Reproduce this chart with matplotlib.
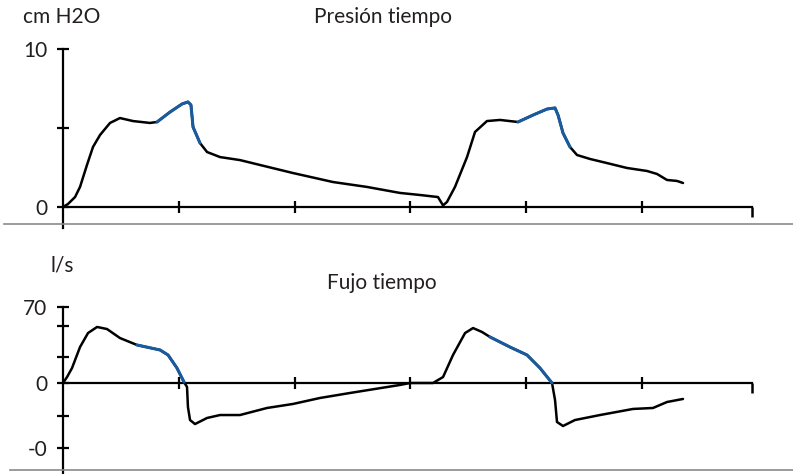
import matplotlib
matplotlib.use("Agg")
import matplotlib.pyplot as plt
from matplotlib.lines import Line2D

plt.rcParams['font.family'] = ['Lato', 'DejaVu Sans']

# presión (cm H2O) vs tiempo
t_pres = [0.000, 0.043, 0.104, 0.147, 0.207, 0.259, 0.320, 0.406, 0.492, 0.604,
          0.751, 0.812, 0.924, 1.028, 1.079, 1.105, 1.123, 1.183, 1.244, 1.356,
          1.528, 1.701, 1.986, 2.332, 2.625, 2.910, 3.083, 3.238, 3.282, 3.316,
          3.385, 3.489, 3.558, 3.661, 3.774, 3.929, 4.059, 4.180, 4.249, 4.275,
          4.318, 4.378, 4.439, 4.551, 4.698, 4.870, 5.043, 5.130, 5.216, 5.302,
          5.354]
pres = [0.00, 0.19, 0.63, 1.27, 2.66, 3.80, 4.56, 5.32, 5.63, 5.44,
        5.32, 5.38, 6.01, 6.52, 6.65, 6.46, 5.06, 4.05, 3.48, 3.16,
        2.97, 2.66, 2.15, 1.58, 1.27, 0.89, 0.76, 0.63, 0.10, 0.32,
        1.27, 3.16, 4.75, 5.44, 5.51, 5.38, 5.82, 6.20, 6.27, 5.82,
        4.68, 3.80, 3.29, 3.04, 2.78, 2.47, 2.28, 2.09, 1.71, 1.65,
        1.52]
pres_blue = [(11, 17), (35, 41)]

# flujo (l/s) vs tiempo
t_flow = [0.000, 0.035, 0.078, 0.147, 0.216, 0.294, 0.380, 0.492, 0.639, 0.838,
          0.907, 0.984, 1.045, 1.071, 1.079, 1.097, 1.140, 1.244, 1.356, 1.528,
          1.762, 1.986, 2.219, 2.478, 2.910, 2.997, 3.195, 3.282, 3.368, 3.472,
          3.541, 3.618, 3.687, 3.860, 4.007, 4.119, 4.223, 4.249, 4.266, 4.318,
          4.421, 4.637, 4.922, 5.095, 5.216, 5.354]
flow = [0.0, 5.5, 13.8, 33.1, 46.0, 51.6, 49.7, 41.4, 35.0, 30.4,
        25.8, 13.8, 0.9, -3.7, -22.1, -34.1, -37.8, -32.2, -29.5, -29.5,
        -23.0, -19.3, -13.8, -9.2, -1.8, 0.0, 0.0, 5.5, 25.8, 46.0,
        50.6, 47.0, 42.4, 33.1, 25.8, 13.8, 0.0, -15.7, -35.9, -39.6,
        -34.1, -29.5, -23.9, -23.0, -17.5, -14.7]
flow_blue = [(8, 12), (32, 36)]

x_ticks = [1, 2, 3, 4, 5]
x_end = 5.95
pres_ticks = [0, 5, 10]
pres_labels = ['0', '', '10']
flow_ticks = [70, 52.5, 24, 0, -30.4, -60]
flow_labels = ['70', '', '', '0', '', '-0']

W, H = 793, 474
PX_T = 115.8   # px per time unit
X0 = 63        # px of t=0
ink = '#231f20'
blue = '#1a5a9e'

fig = plt.figure(figsize=(W / 100, H / 100), dpi=100)
xlim = (-X0 / PX_T, (W - X0) / PX_T)


def style(ax, yticks, ylabels, ybottom, ytop):
    for s in ['top', 'right']:
        ax.spines[s].set_visible(False)
    ax.spines['left'].set_position(('data', 0))
    ax.spines['bottom'].set_position(('data', 0))
    ax.spines['left'].set_bounds(ybottom, ytop)
    ax.spines['bottom'].set_bounds(0, x_end)
    for s in ['left', 'bottom']:
        ax.spines[s].set_linewidth(1.6)
        ax.spines[s].set_color('black')
    ax.set_xticks(x_ticks)
    ax.set_xticks([x_end], minor=True)
    ax.tick_params(axis='x', which='major', direction='inout', length=9, width=1.6,
                   labelbottom=False)
    ax.tick_params(axis='x', which='minor', direction='out', length=7, width=1.8,
                   labelbottom=False)
    ax.set_yticks(yticks, labels=ylabels)
    ax.tick_params(axis='y', direction='inout', length=9, width=1.6, pad=7,
                   labelsize=15, labelcolor=ink)
    ax.set_xlim(*xlim)
    ax.patch.set_visible(False)


def draw(ax, t, v, blues):
    ax.plot(t, v, color='black', lw=1.8, solid_capstyle='round',
            solid_joinstyle='round', zorder=3)
    for a, b in blues:
        ax.plot(t[a:b + 1], v[a:b + 1], color=blue, lw=2.2, solid_capstyle='round',
                solid_joinstyle='round', zorder=4)


# top: presion
PX_P = 15.8
Y0_P = 207
ax1 = fig.add_axes([0, 1 - 235 / H, 1, 205 / H])
ax1.set_ylim((Y0_P - 235) / PX_P, (Y0_P - 30) / PX_P)
style(ax1, pres_ticks, pres_labels, (Y0_P - 228) / PX_P, 10)
draw(ax1, t_pres, pres, pres_blue)

# bottom: flujo
PX_F = 1.086
Y0_F = 383
ax2 = fig.add_axes([0, 0, 1, 234 / H])
ax2.set_ylim((Y0_F - 474) / PX_F, (Y0_F - 240) / PX_F)
style(ax2, flow_ticks, flow_labels, (Y0_F - 474) / PX_F, 70)
draw(ax2, t_flow, flow, flow_blue)

# grey separator lines
for yp, xs in [(224.5, 4), (470, 10)]:
    fig.add_artist(Line2D([xs / W, 1], [1 - yp / H] * 2, color='#8a8a8a', lw=1.2))

fig.text(23 / W, 1 - 17 / H, 'cm H2O', fontsize=15, color=ink, va='center')
fig.text(383 / W, 1 - 17 / H, 'Presión tiempo', fontsize=15, color=ink, va='center', ha='center')
fig.text(50 / W, 1 - 265 / H, 'l/s', fontsize=15, color=ink, va='center')
fig.text(382 / W, 1 - 283 / H, 'Fujo tiempo', fontsize=15, color=ink, va='center', ha='center')

fig.savefig('out.png', dpi=100)
